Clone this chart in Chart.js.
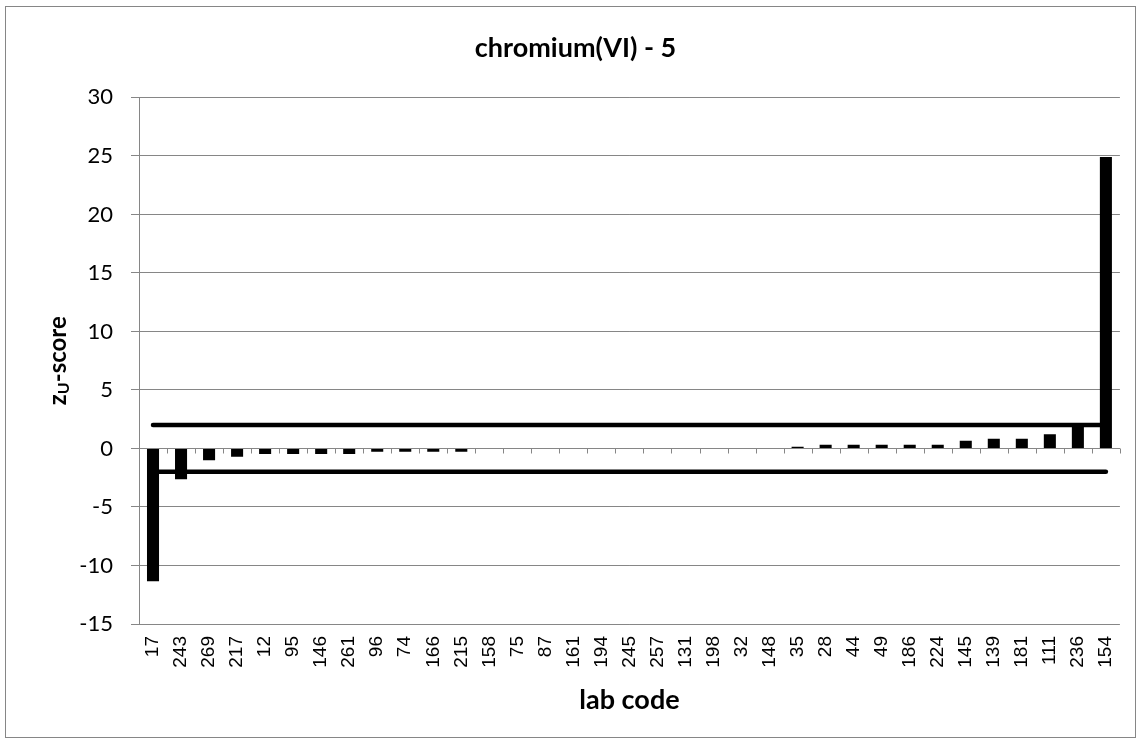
<!DOCTYPE html>
<html>
<head>
<meta charset="utf-8">
<title>chromium(VI) - 5</title>
<script src="https://cdn.jsdelivr.net/npm/chart.js@4.4.1/dist/chart.umd.min.js"></script>
<style>
    html, body { margin: 0; padding: 0; background: #fff; }
    #wrap { width: 1141px; height: 744px; }
</style>
</head>
<body>
<div id="wrap"><canvas id="graph" width="1141" height="744"></canvas></div>
<script>
// lab codes, sorted by z-score
var labCodes = ["17", "243", "269", "217", "12", "95", "146", "261", "96", "74", "166", "215",
    "158", "75", "87", "161", "194", "245", "257", "131", "198", "32", "148", "35", "28", "44",
    "49", "186", "224", "145", "139", "181", "111", "236", "154"];

var zScores = [-11.35, -2.62, -1.0, -0.71, -0.48, -0.48, -0.48, -0.48, -0.28, -0.28, -0.28, -0.28,
    -0.05, 0, 0, 0, 0, 0, 0, 0, 0, 0.03, 0.03, 0.14, 0.31, 0.31,
    0.31, 0.31, 0.31, 0.66, 0.83, 0.83, 1.22, 1.95, 24.9];

// limit lines |z| = 2, drawn from first to last lab
var limitEnds = ["17", "154"];
var upperLimit = [2, 2];
var lowerLimit = [-2, -2];

var yTicks = { min: -15, max: 30, step: 5 };

var gridGrey = '#868686';

function limitPoints(values) {
    return limitEnds.map(function (code, i) { return { x: code, y: values[i] }; });
}

// frame round the whole chart, tick marks on the zero line and the y title with subscript
var chartDecor = {
    id: 'chartDecor',
    beforeDraw: function (chart) {
        var ctx = chart.ctx;
        ctx.save();
        ctx.fillStyle = '#fff';
        ctx.fillRect(0, 0, chart.width, chart.height);
        ctx.strokeStyle = gridGrey;
        ctx.lineWidth = 1;
        ctx.strokeRect(5.5, 6.5, 1130, 731);
        ctx.restore();
    },
    beforeDatasetsDraw: function (chart) {
        var ctx = chart.ctx;
        var x = chart.scales.x;
        var y0 = Math.round(chart.scales.y.getPixelForValue(0)) + 0.5;
        var half = (x.getPixelForValue(1) - x.getPixelForValue(0)) / 2;
        ctx.save();
        ctx.strokeStyle = gridGrey;
        ctx.lineWidth = 1;
        ctx.beginPath();
        ctx.moveTo(x.left, y0);
        ctx.lineTo(x.right, y0);
        for (var i = 0; i <= labCodes.length; i++) {
            var px = Math.round(x.getPixelForValue(i) - half) + 0.5;
            ctx.moveTo(px, y0);
            ctx.lineTo(px, y0 + 5);
        }
        ctx.stroke();
        ctx.restore();
    },
    afterDraw: function (chart) {
        var ctx = chart.ctx;
        var area = chart.chartArea;
        var big = 'bold 24px Lato';
        var small = 'bold 16px Lato';
        ctx.save();
        ctx.translate(58, (area.top + area.bottom) / 2);
        ctx.rotate(-Math.PI / 2);
        ctx.fillStyle = '#000';
        ctx.textBaseline = 'middle';
        ctx.font = big;
        var wz = ctx.measureText('z').width;
        var ws = ctx.measureText('-score').width;
        ctx.font = small;
        var wu = ctx.measureText('U').width;
        var left = -(wz + wu + ws) / 2;
        ctx.font = big;
        ctx.fillText('z', left, 0);
        ctx.font = small;
        ctx.fillText('U', left + wz, 6);
        ctx.font = big;
        ctx.fillText('-score', left + wz + wu, 0);
        ctx.restore();
    }
};

var ctx = document.getElementById('graph');

var myChart = new Chart(ctx, {
    type: 'bar',
    data: {
        labels: labCodes,
        datasets: [
            {
                type: 'line',
                data: limitPoints(upperLimit),
                borderColor: '#000',
                borderWidth: 4.5,
                borderCapStyle: 'round',
                pointRadius: 0,
                fill: false
            },
            {
                type: 'line',
                data: limitPoints(lowerLimit),
                borderColor: '#000',
                borderWidth: 4.5,
                borderCapStyle: 'round',
                pointRadius: 0,
                fill: false
            },
            {
                data: zScores,
                backgroundColor: '#000',
                borderWidth: 0,
                barPercentage: 0.43,
                categoryPercentage: 1.0
            }]
    },
    options: {
        responsive: false,
        animation: false,
        layout: {
            padding: { left: 31, right: 21, top: 0, bottom: 0 }
        },
        plugins: {
            legend: { display: false },
            tooltip: { enabled: false },
            title: {
                display: true,
                text: 'chromium(VI) - 5',
                color: '#000',
                font: { family: 'Lato', size: 27, weight: 'bold' },
                padding: { top: 32, bottom: 33 }
            }
        },
        scales: {
            x: {
                grid: { display: false, drawTicks: false },
                border: { display: false },
                ticks: {
                    autoSkip: false,
                    minRotation: 90,
                    maxRotation: 90,
                    padding: 12,
                    color: '#000',
                    font: { family: 'Liberation Sans', size: 19 }
                },
                title: {
                    display: true,
                    text: 'lab code',
                    color: '#000',
                    font: { family: 'Lato', size: 27, weight: 'bold' },
                    padding: { top: 0, bottom: 28 }
                },
                afterFit: function (scale) { scale.height = 120; }
            },
            y: {
                min: yTicks.min,
                max: yTicks.max,
                grid: { color: gridGrey, tickLength: 8, drawTicks: true },
                border: { display: true, color: gridGrey },
                ticks: {
                    stepSize: yTicks.step,
                    padding: 18,
                    color: '#000',
                    font: { family: 'Lato', size: 22 }
                },
                afterFit: function (scale) { scale.width = 108; }
            }
        }
    },
    plugins: [chartDecor]
});
</script>
</body>
</html>
